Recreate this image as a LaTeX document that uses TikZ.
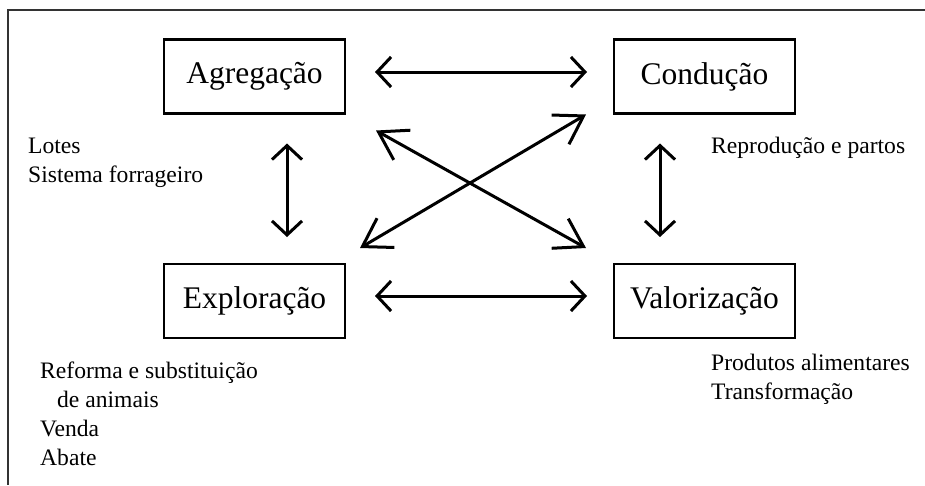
\documentclass[tikz,border=0pt]{standalone}
\usepackage{fontspec}
\setmainfont{Liberation Serif}
\usetikzlibrary{arrows.meta}
\def\boxfont{\fontsize{31.5}{36}\selectfont}
\def\notefont{\fontsize{23.6}{29}\selectfont}

\begin{document}
\begin{tikzpicture}[x=1pt,y=-1pt,
	stage/.style={minimum width=181pt,minimum height=74pt,inner sep=0pt,outer sep=0pt,draw=black,line width=2.4pt,font=\boxfont},
	note/.style={anchor=base west,inner sep=0pt,align=left,font=\notefont},
	link/.style={line width=3pt,{Straight Barb[length=14pt,width=30pt]}-{Straight Barb[length=14pt,width=30pt]}},
	cross/.style={line width=3pt,{Straight Barb[length=27pt,width=34pt]}-{Straight Barb[length=27pt,width=34pt]}}]
	\useasboundingbox (0,0) rectangle (925,485);
	\draw [line width=1.3pt,black!80] (925,10) -- (8,10) -- (8,485);

	\node [stage] at (254.5,76.5) (agr) {Agregação};
	\node [stage] at (704.5,76.5) (cond) {Condução};
	\node [stage] at (254.5,301) (expl) {Exploração};
	\node [stage] at (704.5,301) (val) {Valorização};

	% base of a multi-line note is its last line
	\node [note] at (28,182) (agr_note) {Lotes\\Sistema forrageiro};
	\node [note] at (711,153) (cond_note) {Reprodução e partos};
	\node [note] at (40,465) (expl_note) {Reforma e substituição\\\hspace*{17pt}de animais\\Venda\\Abate};
	\node [note] at (711,399) (val_note) {Produtos alimentares\\Transformação};

	\draw [link] ([shift={(30,-4.5)}]agr.east) -- ([shift={(-27,-4.5)}]cond.west);
	\draw [link] ([shift={(30,-5)}]expl.east) -- ([shift={(-27,-5)}]val.west);
	\draw [link] ([shift={(32.5,30)}]agr.south) -- ([shift={(32.5,-27)}]expl.north);
	\draw [link] ([shift={(-44.5,30)}]cond.south) -- ([shift={(-44.5,-27)}]val.north);
	\draw [cross] ([shift={(15,-16)}]expl.north east) -- ([shift={(-28,1)}]cond.south west);
	\draw [cross] ([shift={(31,17)}]agr.south east) -- ([shift={(-28,-16)}]val.north west);
\end{tikzpicture}
\end{document}
